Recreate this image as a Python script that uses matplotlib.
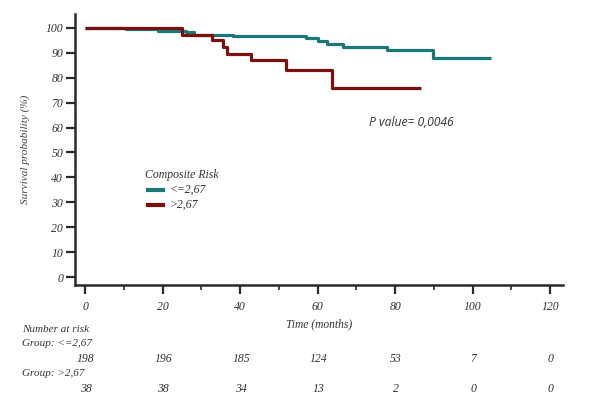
import matplotlib
matplotlib.use("Agg")
import matplotlib.pyplot as plt
from matplotlib.transforms import blended_transform_factory

# Data
low_times = [0, 10.6, 18.8, 26.0, 28.1, 38.1, 56.9, 60.1, 62.3, 66.6, 77.8, 89.8, 104.6]
low_surv = [100, 99.5, 98.9, 98.5, 97.2, 96.6, 95.8, 94.8, 93.7, 92.4, 91.3, 88.1, 88.1]
high_times = [0, 25.0, 32.8, 35.5, 36.5, 42.8, 51.8, 63.7, 86.7]
high_surv = [100, 97.2, 95.2, 92.2, 89.6, 87.1, 83.1, 76.0, 76.0]

risk_times = [0, 20, 40, 60, 80, 100, 120]
risk_low = [198, 196, 185, 124, 53, 7, 0]
risk_high = [38, 38, 34, 13, 2, 0, 0]

group_labels = ["<=2,67", ">2,67"]
legend_title = "Composite Risk"
p_text = "P value= 0,0046"

teal = "#1b7876"
dark_red = "#7a1010"
axis_col = "#2a2a2a"
serif = "Liberation Serif"

W, H = 597, 408
fig = plt.figure(figsize=(W / 100, H / 100), dpi=100)
ax = fig.add_axes([75 / W, 1 - 285 / H, (563 - 75) / W, (285 - 14) / H])

ax.step(low_times, low_surv, where="post", color=teal, lw=2.3, solid_capstyle="butt")
ax.step(high_times, high_surv, where="post", color=dark_red, lw=2.3, solid_capstyle="butt")

ax.set_xlim(-2.6, 123.3)
ax.set_ylim(-3.2, 105.6)

for s in ["top", "right"]:
    ax.spines[s].set_visible(False)
for s in ["left", "bottom"]:
    ax.spines[s].set_color(axis_col)
    ax.spines[s].set_linewidth(1.8)

ax.set_xticks(range(0, 121, 20))
ax.set_xticks(range(10, 121, 20), minor=True)
ax.set_yticks(range(0, 101, 10))
ax.tick_params(axis="both", which="major", direction="out", length=6.5, width=1.6,
               color=axis_col, labelsize=8.5, pad=2)
ax.tick_params(axis="x", which="minor", direction="out", length=3.5, width=1.2, color=axis_col)
ax.tick_params(axis="x", which="major", pad=5)
for lab in ax.get_xticklabels() + ax.get_yticklabels():
    lab.set_fontfamily(serif)
    lab.set_fontstyle("italic")
    lab.set_color("#333333")

ax.set_ylabel("Survival probability (%)", fontfamily=serif, fontstyle="italic",
              fontsize=8, color="#444444", labelpad=11)
ax.set_xlabel("Time (months)", fontfamily=serif, fontstyle="italic",
              fontsize=8.3, color="#333333", labelpad=4)

# Legend (manual)
fig.text(145 / W, 1 - 175 / H, legend_title, fontfamily=serif, fontstyle="italic",
         fontsize=8.5, color="#333333", va="center", ha="left")
fig.lines.append(plt.Line2D([148 / W, 163 / W], [1 - 190 / H, 1 - 190 / H],
                            transform=fig.transFigure, color=teal, lw=3))
fig.lines.append(plt.Line2D([148 / W, 163 / W], [1 - 205 / H, 1 - 205 / H],
                            transform=fig.transFigure, color=dark_red, lw=3))
fig.text(170 / W, 1 - 190 / H, group_labels[0], fontfamily=serif, fontstyle="italic",
         fontsize=8.5, color="#333333", va="center", ha="left")
fig.text(170 / W, 1 - 205 / H, group_labels[1], fontfamily=serif, fontstyle="italic",
         fontsize=8.5, color="#333333", va="center", ha="left")

# P value
fig.text(369 / W, 1 - 122 / H, p_text, fontfamily="Open Sans", fontstyle="italic",
         fontsize=8.7, color="#333333", va="center", ha="left")

# Risk table
tr = blended_transform_factory(ax.transData, fig.transFigure)
fig.text(22 / W, 1 - 329 / H, "Number at risk", fontfamily=serif, fontstyle="italic",
         fontsize=8, color="#333333", va="center", ha="left")
fig.text(22 / W, 1 - 344 / H, "Group: " + group_labels[0], fontfamily=serif, fontstyle="italic",
         fontsize=8, color="#333333", va="center", ha="left")
fig.text(22 / W, 1 - 374 / H, "Group: " + group_labels[1], fontfamily=serif, fontstyle="italic",
         fontsize=8, color="#333333", va="center", ha="left")
for t, n1, n2 in zip(risk_times, risk_low, risk_high):
    ax.text(t + 0.2, 1 - 359 / H, str(n1), transform=tr, fontfamily=serif, fontstyle="italic",
            fontsize=8.5, color="#333333", va="center", ha="center")
    ax.text(t + 0.2, 1 - 389 / H, str(n2), transform=tr, fontfamily=serif, fontstyle="italic",
            fontsize=8.5, color="#333333", va="center", ha="center")

fig.savefig("out.png", dpi=100, facecolor="white")
